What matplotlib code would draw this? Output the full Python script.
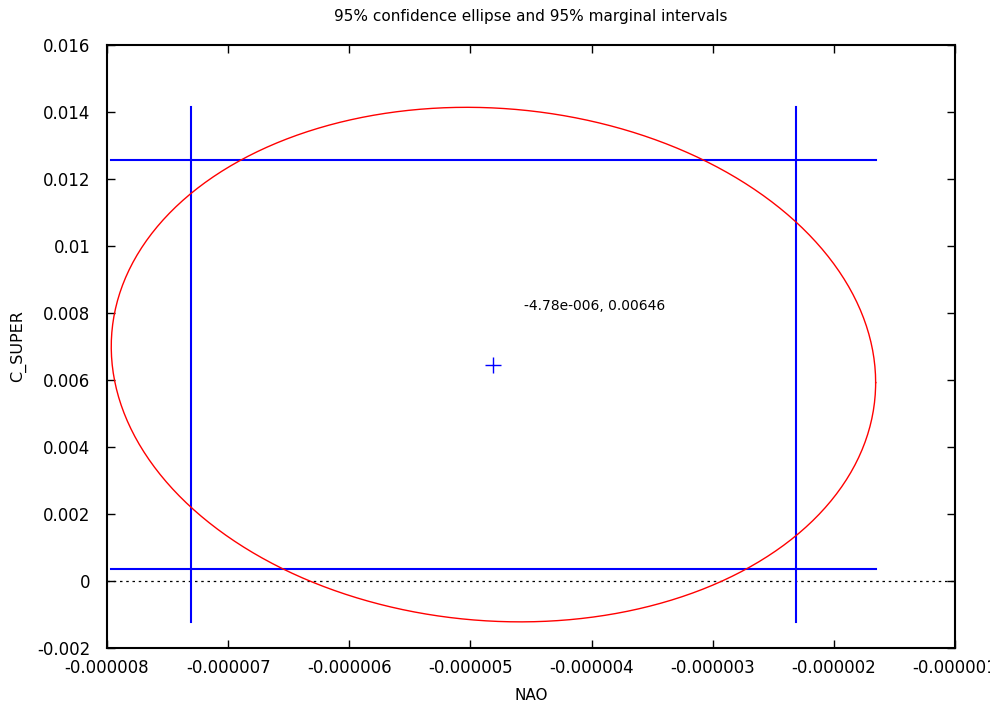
import numpy as np
import matplotlib
matplotlib.use("Agg")
import matplotlib.pyplot as plt

# --- values ---
center_x = -4.81e-6        # plotted centre (as drawn)
center_y = 0.00646
marg_half_x = 2.50e-6      # 95% marginal interval half-width (NAO)
marg_half_y = 0.00610      # 95% marginal interval half-width (C_SUPER)
ell_half_x = 3.155e-6      # ellipse bounding half-width
ell_half_y = 0.00768       # ellipse bounding half-height
rho = -0.07                # correlation (tilt)
x_ticks = [-8e-6, -7e-6, -6e-6, -5e-6, -4e-6, -3e-6, -2e-6, -1e-6]
x_tick_labels = ["-0.000008", "-0.000007", "-0.000006", "-0.000005",
                 "-0.000004", "-0.000003", "-0.000002", "-0.000001"]
y_ticks = [-0.002, 0, 0.002, 0.004, 0.006, 0.008, 0.01, 0.012, 0.014, 0.016]
y_tick_labels = ["-0.002", "0", "0.002", "0.004", "0.006", "0.008",
                 "0.01", "0.012", "0.014", "0.016"]
title = "95% confidence ellipse and 95% marginal intervals"
xlabel = "NAO"
ylabel = "C_SUPER"
point_label = "-4.78e-006, 0.00646"

plt.rcParams['font.family'] = ['DejaVu Sans']

fig = plt.figure(figsize=(9.9, 7.11), dpi=100)
ax = fig.add_axes([107/990, 63/711, 848/990, 603/711])

# ellipse
t = np.linspace(0, 2*np.pi, 400)
ex = center_x + ell_half_x*np.cos(t)
ey = center_y + ell_half_y*(rho*np.cos(t) + np.sqrt(1 - rho**2)*np.sin(t))
ax.plot(ex, ey, color='#ff0000', lw=1.0, zorder=3)

# marginal interval lines spanning ellipse bounding box
x_lo, x_hi = center_x - marg_half_x, center_x + marg_half_x
y_lo, y_hi = center_y - marg_half_y, center_y + marg_half_y
bx0, bx1 = center_x - ell_half_x, center_x + ell_half_x
by0, by1 = center_y - ell_half_y, center_y + ell_half_y
for xv in (x_lo, x_hi):
    ax.plot([xv, xv], [by0, by1], color='#0000ff', lw=1.5, zorder=2)
for yv in (y_lo, y_hi):
    ax.plot([bx0, bx1], [yv, yv], color='#0000ff', lw=1.5, zorder=2)

# centre point
ax.plot([center_x], [center_y], marker='+', color='#0000ff', ms=11, mew=1.0,
        ls='none', zorder=4)
ax.text(-4.56e-6, 0.0082, point_label, fontsize=10, ha='left', va='center')

# zero line
ax.axhline(0, color='black', lw=0.9, ls=(0, (2, 3)), zorder=1)

ax.set_xlim(-8e-6, -1e-6)
ax.set_ylim(-0.002, 0.016)
ax.set_xticks(x_ticks)
ax.set_xticklabels(x_tick_labels, fontsize=12)
ax.set_yticks(y_ticks)
ax.set_yticklabels(y_tick_labels, fontsize=12)
ax.tick_params(axis='x', direction='in', length=6, width=1, top=True,
               pad=8, colors='black')
ax.tick_params(axis='y', direction='in', length=6, width=1, right=True,
               pad=12, colors='black')
for s in ax.spines.values():
    s.set_linewidth(1.5)
    s.set_color('black')

ax.set_xlabel(xlabel, fontsize=11, labelpad=8)
ax.set_ylabel(ylabel, fontsize=11.5, labelpad=8)
fig.text(531/990, 1 - 17/711, title, ha='center', va='center', fontsize=11)

fig.savefig("out.png", dpi=100)
